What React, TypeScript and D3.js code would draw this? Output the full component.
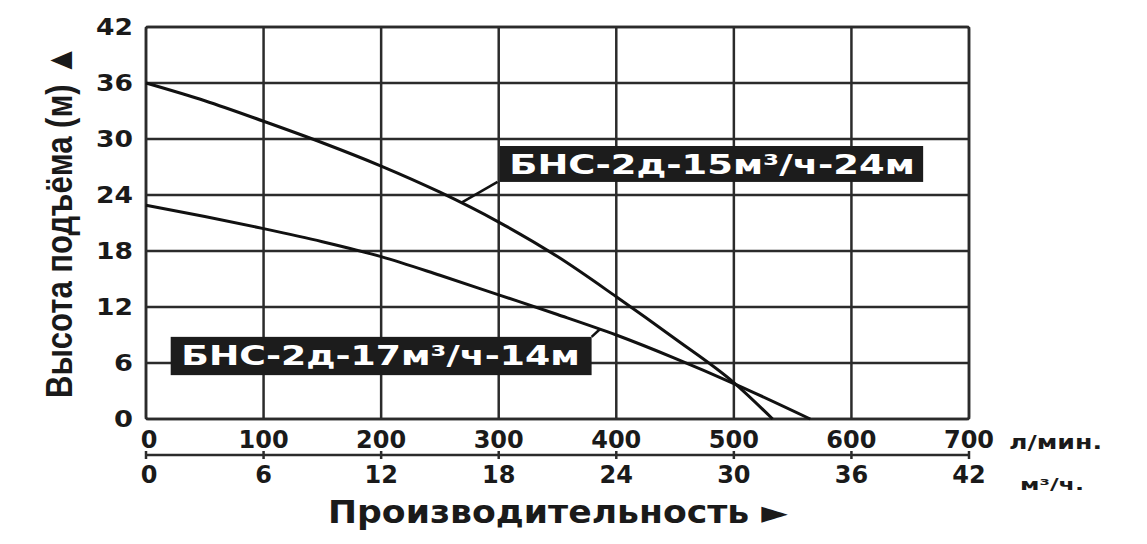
import * as d3 from 'd3';

// flow, l/min
const flowTicks = [0, 100, 200, 300, 400, 500, 600, 700];
// flow, m3/h
const cubicTicks = [0, 6, 12, 18, 24, 30, 36, 42];
// head, m
const headTicks = [0, 6, 12, 18, 24, 30, 36, 42];

// БНС-2д-15м³/ч-24м
const upperFlow = [0, 50, 100, 150, 200, 250, 300, 350, 400, 450, 500, 533];
const upperHead = [36, 34.1, 31.9, 29.6, 27.1, 24.3, 21.1, 17.4, 13.1, 8.6, 3.9, 0];

// БНС-2д-17м³/ч-14м
const lowerFlow = [0, 50, 100, 150, 200, 250, 300, 350, 400, 450, 500, 565];
const lowerHead = [22.9, 21.7, 20.4, 19.0, 17.4, 15.4, 13.3, 11.2, 9.0, 6.5, 3.8, 0];

const upperName = 'БНС-2д-15м³/ч-24м';
const lowerName = 'БНС-2д-17м³/ч-14м';

const W = 1147;
const H = 544;
const margin = { top: 27, right: 178, bottom: 125, left: 146 };

const BOLD = '"DejaVu Sans", Verdana, sans-serif';
const ARIAL = '"Liberation Sans", Arial, sans-serif';
const INK = '#1a1a1a';

export default function App() {
  const x = d3.scaleLinear().domain([0, 700]).range([margin.left, W - margin.right]);
  const x2 = d3.scaleLinear().domain([0, 42]).range([margin.left, W - margin.right]);
  const y = d3.scaleLinear().domain([0, 42]).range([H - margin.bottom, margin.top]);

  const line = d3.line<[number, number]>()
    .x(d => x(d[0]))
    .y(d => y(d[1]))
    .curve(d3.curveMonotoneX);

  const upper = upperFlow.map((f, i) => [f, upperHead[i]] as [number, number]);
  const lower = lowerFlow.map((f, i) => [f, lowerHead[i]] as [number, number]);

  const headAt = (pts: [number, number][], f: number) => {
    const fx = pts.map(p => p[0]);
    const i = Math.max(1, d3.bisectLeft(fx, f));
    const [a, b] = [pts[i - 1], pts[i]];
    return a[1] + (b[1] - a[1]) * (f - a[0]) / (b[0] - a[0]);
  };

  // label boxes, in data units
  const boxes = [
    { name: upperName, f0: 301, f1: 661, h0: 25.4, h1: 29.25, lead: [299, 25.4], to: 268, pts: upper, tx0: 309, tx1: 654, base: 26.3 },
    { name: lowerName, f0: 21, f1: 379, h0: 4.7, h1: 8.8, lead: [379, 8.8], to: 386, pts: lower, tx0: 30, tx1: 369, base: 5.8 },
  ];

  const x0 = x(0), xe = x(700), y0 = y(0), ye = y(42);

  return (
    <svg width={W} height={H} style={{ position: 'absolute', left: 0, top: 0, background: '#fff' }}>
      {/* grid */}
      <g stroke="#2b2b2b" strokeWidth={2.5}>
        {flowTicks.map(t => <line key={'v' + t} x1={x(t)} x2={x(t)} y1={ye} y2={y0} />)}
        {headTicks.map(t => <line key={'h' + t} x1={x0} x2={xe} y1={y(t)} y2={y(t)} />)}
      </g>
      <rect x={x0} y={ye} width={xe - x0} height={y0 - ye} fill="none" stroke="#2b2b2b" strokeWidth={2.5} rx={2} />

      {/* curves */}
      <path d={line(upper) ?? ''} fill="none" stroke="#111" strokeWidth={3} />
      <path d={line(lower) ?? ''} fill="none" stroke="#111" strokeWidth={3} />

      {/* labels */}
      {boxes.map(b => (
        <g key={b.name}>
          <line x1={x(b.lead[0])} y1={y(b.lead[1])} x2={x(b.to)} y2={y(headAt(b.pts, b.to))} stroke="#111" strokeWidth={2.5} />
          <rect x={x(b.f0)} y={y(b.h1)} width={x(b.f1) - x(b.f0)} height={y(b.h0) - y(b.h1)} fill="#1c1c1c" />
          <text x={x(b.tx0)} y={y(b.base)} fill="#fff" fontFamily={BOLD} fontWeight="bold" fontSize={27}
            textLength={x(b.tx1) - x(b.tx0)} lengthAdjust="spacingAndGlyphs">{b.name}</text>
        </g>
      ))}

      {/* y ticks */}
      <g fontFamily={BOLD} fontWeight="bold" fontSize={23} fill={INK} textAnchor="end">
        {headTicks.map(t => (
          <text key={t} x={x0 - 13} y={y(t) + 8} textLength={t < 10 ? 19 : 37} lengthAdjust="spacingAndGlyphs">{t}</text>
        ))}
      </g>

      {/* x ticks, l/min */}
      <g fontFamily={BOLD} fontWeight="bold" fontSize={24} fill={INK} textAnchor="middle">
        {flowTicks.map(t => (
          <text key={t} x={x(t) + (t === 0 ? 3 : 0)} y={y0 + 29}>{t}</text>
        ))}
      </g>
      <text x={1009} y={y0 + 30} fontFamily={BOLD} fontWeight="bold" fontSize={19} fill={INK}
        textLength={93} lengthAdjust="spacingAndGlyphs">л/мин.</text>

      {/* second axis, m3/h */}
      <line x1={x2(0)} x2={x2(42)} y1={y0 + 36} y2={y0 + 36} stroke="#2b2b2b" strokeWidth={2.5} />
      {cubicTicks.map(t => (
        <line key={'t' + t} x1={x2(t)} x2={x2(t)} y1={y0 + 32} y2={y0 + 40} stroke="#2b2b2b" strokeWidth={2.5} />
      ))}
      <g fontFamily={BOLD} fontWeight="bold" fontSize={24} fill={INK} textAnchor="middle">
        {cubicTicks.map(t => (
          <text key={t} x={x2(t) + (t === 0 ? 3 : 0)} y={y0 + 64}>{t}</text>
        ))}
      </g>
      <text x={1020} y={y0 + 71} fontFamily={BOLD} fontWeight="bold" fontSize={16} fill={INK}
        textLength={64} lengthAdjust="spacingAndGlyphs">м³/ч.</text>

      {/* axis titles */}
      <text x={328} y={y0 + 104} fontFamily={BOLD} fontWeight="bold" fontSize={32} fill={INK}
        textLength={460} lengthAdjust="spacingAndGlyphs">Производительность ►</text>
      <text transform={`translate(72, 398) rotate(-90) scale(1, 1.32)`} fontFamily={ARIAL} fontWeight="bold" fontSize={28} fill={INK}
        textLength={353} lengthAdjust="spacingAndGlyphs">Высота подъёма (м) ▲</text>
    </svg>
  );
}
